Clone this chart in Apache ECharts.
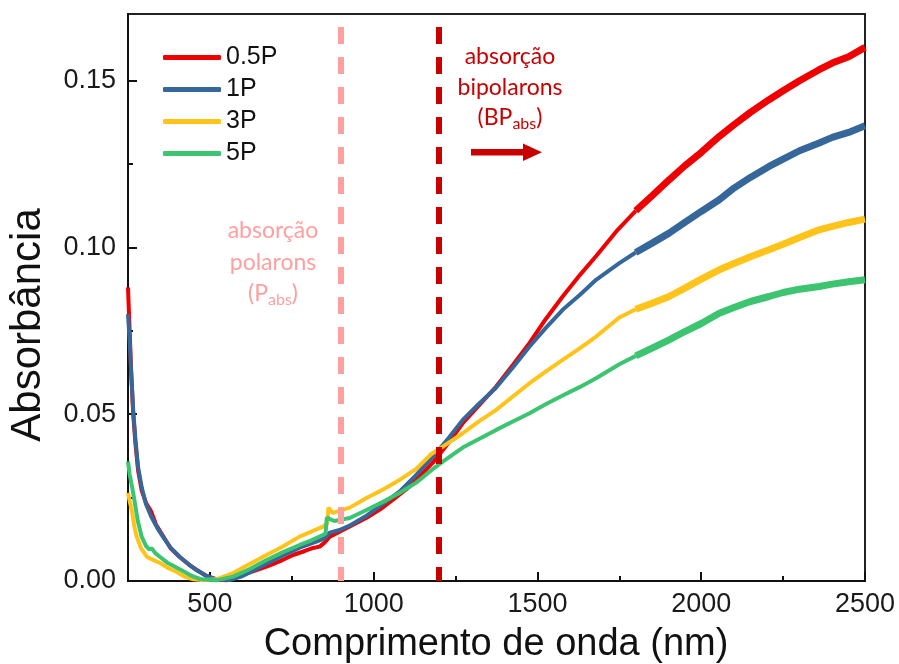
<!DOCTYPE html>
<html>
<head>
<meta charset="utf-8">
<script src="https://cdn.jsdelivr.net/npm/echarts@6/dist/echarts.min.js"></script>
<style>
html,body{margin:0;padding:0;background:#fff;}
#chart{width:899px;height:664px;}
</style>
</head>
<body>
<div id="chart"></div>
<script>
// ---- data (wavelength nm, absorbance) ----
const names = ['0.5P', '1P', '3P', '5P'];
const colors = ['#F00000', '#35679A', '#FFC31A', '#3CC471'];

const sample05P = [[250,0.088],[255,0.075],[260,0.062],[266,0.050],[273,0.041],[281,0.033],[292,0.027],[305,0.0234],[320,0.021],[335,0.017],[357,0.0135],[380,0.0098],[408,0.0072],[435,0.005],[460,0.0033],[490,0.0015],[520,0.0005],[550,0.0002],[571,0.001],[620,0.0025],[673,0.0043],[720,0.0062],[754,0.0078],[790,0.0090],[815,0.0099],[835,0.0103],[850,0.0115],[866,0.0133],[896,0.0148],[930,0.0165],[977,0.0189],[1020,0.0215],[1058,0.0243],[1100,0.0275],[1130,0.0303],[1180,0.0354],[1225,0.041],[1272,0.0473],[1320,0.0525],[1374,0.0583],[1425,0.0648],[1476,0.0714],[1525,0.0785],[1577,0.0853],[1630,0.0918],[1680,0.0975],[1745,0.1053],[1800,0.111],[1850,0.1155],[1902,0.1203],[1950,0.1245],[2000,0.1285],[2055,0.1333],[2100,0.1368],[2150,0.1405],[2207,0.1443],[2250,0.147],[2300,0.150],[2360,0.1533],[2400,0.1553],[2450,0.1572],[2500,0.160]];

const sample1P = [[250,0.080],[255,0.072],[260,0.062],[266,0.051],[273,0.042],[281,0.034],[292,0.028],[305,0.0230],[320,0.0195],[340,0.0158],[360,0.0128],[380,0.0100],[408,0.0072],[435,0.005],[460,0.0032],[490,0.0015],[520,0.0005],[560,0.0003],[600,0.0015],[673,0.0052],[720,0.0075],[774,0.0100],[825,0.0118],[850,0.0128],[866,0.0145],[896,0.0153],[930,0.0168],[977,0.0195],[1020,0.0225],[1079,0.0268],[1130,0.0318],[1180,0.0372],[1230,0.043],[1272,0.0483],[1320,0.053],[1374,0.058],[1425,0.064],[1476,0.0703],[1525,0.0758],[1577,0.0813],[1630,0.0858],[1679,0.0903],[1750,0.0953],[1800,0.0985],[1850,0.1013],[1902,0.1043],[1950,0.1075],[2000,0.1108],[2055,0.1143],[2100,0.1178],[2150,0.1210],[2207,0.1243],[2250,0.1265],[2300,0.1290],[2360,0.1313],[2400,0.133],[2450,0.1345],[2500,0.1365]];

const sample3P = [[250,0.0264],[255,0.024],[262,0.021],[270,0.016],[277,0.0132],[290,0.0098],[308,0.0072],[330,0.0062],[348,0.0054],[370,0.0040],[399,0.0027],[425,0.0012],[450,0.0005],[480,0.0002],[520,0.0005],[571,0.0024],[620,0.0050],[673,0.0078],[720,0.0102],[774,0.0133],[810,0.0148],[845,0.0163],[858,0.0172],[862,0.0220],[875,0.0204],[900,0.0212],[927,0.022],[978,0.0249],[1030,0.0275],[1079,0.0303],[1130,0.0336],[1175,0.0380],[1225,0.0412],[1272,0.0443],[1320,0.0478],[1374,0.0513],[1425,0.0553],[1476,0.0593],[1525,0.0628],[1577,0.0663],[1630,0.0698],[1679,0.0733],[1750,0.0790],[1800,0.0815],[1850,0.0833],[1902,0.0853],[1950,0.0878],[2000,0.0905],[2055,0.0933],[2100,0.0952],[2150,0.0972],[2207,0.0993],[2250,0.1010],[2300,0.1030],[2360,0.1053],[2400,0.1063],[2450,0.1075],[2500,0.1085]];

const sample5P = [[250,0.0358],[255,0.032],[261,0.029],[271,0.0234],[280,0.018],[292,0.0132],[305,0.0105],[315,0.0095],[322,0.0098],[335,0.0082],[348,0.0072],[370,0.0055],[395,0.0042],[418,0.0030],[445,0.0015],[470,0.0006],[520,0.0002],[571,0.0013],[620,0.0035],[673,0.0063],[720,0.0085],[774,0.0108],[810,0.0122],[845,0.0138],[853,0.0142],[857,0.0190],[880,0.0180],[927,0.0189],[978,0.0213],[1030,0.0238],[1079,0.0264],[1130,0.0295],[1180,0.0335],[1211,0.0358],[1272,0.040],[1320,0.0425],[1374,0.0453],[1425,0.0478],[1476,0.0503],[1525,0.053],[1577,0.0556],[1630,0.0582],[1679,0.0608],[1750,0.0650],[1800,0.0675],[1850,0.0698],[1902,0.0723],[1950,0.0748],[2000,0.0772],[2055,0.0803],[2100,0.0820],[2150,0.0838],[2207,0.0853],[2250,0.0865],[2300,0.0875],[2360,0.0883],[2400,0.0890],[2450,0.0897],[2500,0.0903]];

const samples = [sample05P, sample1P, sample3P, sample5P];
const noisyFrom = 1800;              // detector change: noisier signal beyond this wavelength
const xTicks = [500, 1000, 1500, 2000, 2500];
const xMinorTicks = [750, 1250, 1750, 2250];
const yTicks = [0, 0.05, 0.10, 0.15];
const yMinorTicks = [0.025, 0.075, 0.125];
const markerLines = [900, 1200];     // polaron / bipolaron absorption markers

const FONT = 'Liberation Sans, Arial, sans-serif';
const ANN_FONT = 'Lato, "Open Sans", sans-serif';
const PINK = '#FFA0A0';
const DARKRED = '#C80000';

const GRID = { left: 128, right: 34, top: 14, bottom: 83 };
const PLOT_H = 664 - GRID.top - GRID.bottom;

const series = [];
samples.forEach(function (s, i) {
  series.push({
    name: names[i], type: 'line', color: colors[i],
    data: s.filter(p => p[0] <= noisyFrom),
    showSymbol: false, symbol: 'none', silent: true,
    lineStyle: { width: 4, color: colors[i] }
  });
  series.push({
    name: names[i], type: 'line', color: colors[i],
    data: s.filter(p => p[0] >= noisyFrom),
    showSymbol: false, symbol: 'none', silent: true,
    lineStyle: { width: 7, color: colors[i] }
  });
});
series[series.length - 1].markLine = {
  silent: true, symbol: ['none', 'none'], label: { show: false },
  animation: false,
  data: [
    { xAxis: markerLines[0], lineStyle: { color: PINK, width: 6, type: [17, 13], dashOffset: 3 } },
    { xAxis: markerLines[1], lineStyle: { color: DARKRED, width: 6, type: [17, 13], dashOffset: 3 } }
  ]
};

const chart = echarts.init(document.getElementById('chart'), null, { renderer: 'canvas' });
chart.setOption({
  animation: false,
  backgroundColor: '#fff',
  grid: Object.assign({ show: true, borderColor: '#222', borderWidth: 2, backgroundColor: 'transparent' }, GRID),
  legend: {
    orient: 'vertical', left: 158, top: 40,
    data: names, icon: 'roundRect', itemWidth: 58, itemHeight: 5, itemGap: 7,
    textStyle: { fontSize: 25, lineHeight: 25, fontFamily: FONT, color: '#111' },
    selectedMode: false
  },
  xAxis: [{
    type: 'value', min: 250, max: 2500, position: 'bottom',
    axisLine: { show: true, onZero: false, lineStyle: { color: '#111', width: 2 } },
    axisTick: { show: true, inside: true, length: 9, customValues: xTicks, lineStyle: { color: '#111', width: 2 } },
    axisLabel: { customValues: xTicks, fontSize: 27, fontFamily: FONT, color: '#1a1a1a', margin: 10, formatter: v => String(v) },
    splitLine: { show: false }
  }, {
    // minor ticks: placed at the top slot and shifted down onto the bottom edge
    type: 'value', min: 250, max: 2500, position: 'top', offset: -PLOT_H,
    axisLine: { show: false, onZero: false },
    axisTick: { show: true, inside: false, length: 5, customValues: xMinorTicks, lineStyle: { color: '#111', width: 2 } },
    axisLabel: { show: false },
    splitLine: { show: false }
  }],
  yAxis: [{
    type: 'value', min: 0, max: 0.17, position: 'left',
    axisLine: { show: true, onZero: false, lineStyle: { color: '#111', width: 2 } },
    axisTick: { show: true, inside: true, length: 9, customValues: yTicks, lineStyle: { color: '#111', width: 2 } },
    axisLabel: { customValues: yTicks, fontSize: 27, fontFamily: FONT, color: '#1a1a1a', margin: 12, formatter: v => v.toFixed(2) },
    splitLine: { show: false }
  }, {
    type: 'value', min: 0, max: 0.17, position: 'left',
    axisLine: { show: false, onZero: false },
    axisTick: { show: true, inside: true, length: 5, customValues: yMinorTicks, lineStyle: { color: '#111', width: 2 } },
    axisLabel: { show: false },
    splitLine: { show: false }
  }],
  series: series,
  graphic: [
    { type: 'text', x: 496, y: 645, silent: true,
      style: { text: 'Comprimento de onda (nm)', fill: '#111', font: '38px ' + FONT, align: 'center', verticalAlign: 'middle' } },
    { type: 'text', x: 28, y: 325, rotation: Math.PI / 2, silent: true,
      style: { text: 'Absorbância', fill: '#111', font: '42px ' + FONT, align: 'center', verticalAlign: 'middle' } },
    { type: 'text', x: 273, y: 262.5, silent: true,
      style: {
        text: 'absorção\npolarons\n{n|(P}{s|abs}{n|)}', fill: PINK,
        fontSize: 23, fontFamily: ANN_FONT, lineHeight: 31.5, align: 'center', verticalAlign: 'middle',
        rich: {
          n: { fontSize: 23, fontFamily: ANN_FONT, fill: PINK, lineHeight: 31.5 },
          s: { fontSize: 16, fontFamily: ANN_FONT, fill: PINK, lineHeight: 16, padding: [12, 0, 0, 0] }
        }
      } },
    { type: 'text', x: 510, y: 87.5, silent: true,
      style: {
        text: 'absorção\nbipolarons\n{n|(BP}{s|abs}{n|)}', fill: DARKRED,
        fontSize: 23, fontFamily: ANN_FONT, lineHeight: 30.5, align: 'center', verticalAlign: 'middle',
        rich: {
          n: { fontSize: 23, fontFamily: ANN_FONT, fill: DARKRED, lineHeight: 30.5 },
          s: { fontSize: 16, fontFamily: ANN_FONT, fill: DARKRED, lineHeight: 16, padding: [12, 0, 0, 0] }
        }
      } },
    { type: 'rect', silent: true, shape: { x: 471, y: 149, width: 54, height: 6.5 }, style: { fill: DARKRED } },
    { type: 'polygon', silent: true, shape: { points: [[523, 143.5], [542, 152.2], [523, 161]] }, style: { fill: DARKRED } }
  ]
});
</script>
</body>
</html>
